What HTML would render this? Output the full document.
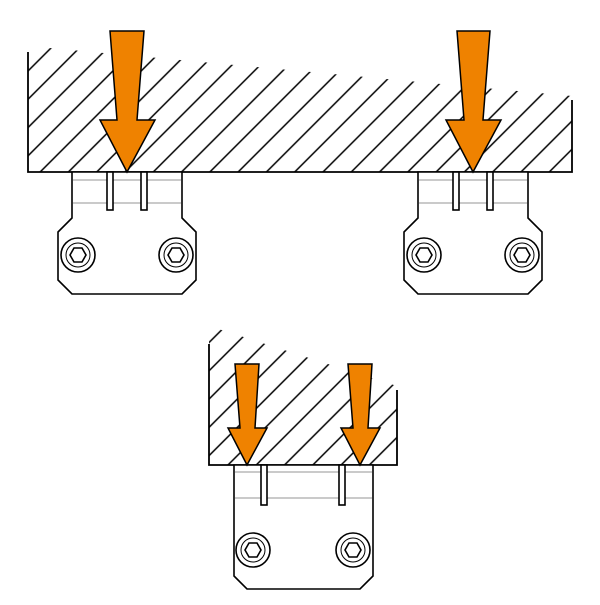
<!DOCTYPE html>
<html><head><style>html,body{margin:0;padding:0;background:#fff}</style></head><body>
<svg width="600" height="600" viewBox="0 0 600 600" xmlns="http://www.w3.org/2000/svg">
<defs>
<pattern id="h" width="20" height="20" patternUnits="userSpaceOnUse" patternTransform="rotate(45)">
<line x1="10" y1="0" x2="10" y2="20" stroke="#000" stroke-width="1.5"/>
</pattern>
<clipPath id="c1"><polygon points="28,46 572,96 572,172 28,172"/></clipPath>
<clipPath id="c2"><polygon points="209,326 397,386 397,465 209,465"/></clipPath>
<g id="clamp" fill="#fff" stroke="#000" stroke-width="1.6">
<polygon points="72,172 182,172 182,218 196,232 196,280 182,294 72,294 58,280 58,232 72,218"/>
<line x1="73" y1="180" x2="181" y2="180" stroke="#aaa" stroke-width="1.3"/>
<line x1="73" y1="203" x2="181" y2="203" stroke="#aaa" stroke-width="1.3"/>
<rect x="107" y="172" width="6" height="38"/>
<rect x="141" y="172" width="6" height="38"/>
<circle cx="78" cy="255" r="17"/><circle cx="78" cy="255" r="12" stroke-width="1"/>
<polygon points="86,255 82,262 74,262 70,255 74,248 82,248"/>
<circle cx="176" cy="255" r="17"/><circle cx="176" cy="255" r="12" stroke-width="1"/>
<polygon points="184,255 180,262 172,262 168,255 172,248 180,248"/>
</g>
</defs>
<rect x="28" y="40" width="544" height="132" fill="url(#h)" clip-path="url(#c1)"/>
<polyline points="28,52 28,172 572,172 572,100" fill="none" stroke="#000" stroke-width="1.8"/>
<use href="#clamp"/>
<use href="#clamp" transform="translate(346,0)"/>
<polygon points="110,31 144,31 137,120 155,120 127,172 100,120 117,120" fill="#ef8200" stroke="#000" stroke-width="1.5"/>
<polygon points="457,31 490,31 483,120 501,120 473,172 446,120 464,120" fill="#ef8200" stroke="#000" stroke-width="1.5"/>

<rect x="209" y="320" width="188" height="145" fill="url(#h)" clip-path="url(#c2)"/>
<polyline points="209,344 209,465 397,465 397,390" fill="none" stroke="#000" stroke-width="1.8"/>
<g fill="#fff" stroke="#000" stroke-width="1.6">
<polygon points="234,465 373,465 373,576 360,589 247,589 234,576"/>
<line x1="235" y1="472" x2="372" y2="472" stroke="#aaa" stroke-width="1.3"/>
<line x1="235" y1="498" x2="372" y2="498" stroke="#aaa" stroke-width="1.3"/>
<rect x="261" y="465" width="6" height="40"/>
<rect x="339" y="465" width="6" height="40"/>
<circle cx="253" cy="550" r="17"/><circle cx="253" cy="550" r="12" stroke-width="1"/>
<polygon points="261,550 257,557 249,557 245,550 249,543 257,543"/>
<circle cx="353" cy="550" r="17"/><circle cx="353" cy="550" r="12" stroke-width="1"/>
<polygon points="361,550 357,557 349,557 345,550 349,543 357,543"/>
</g>
<polygon points="235,364 259,364 255,428 267,428 247,465 228,428 240,428" fill="#ef8200" stroke="#000" stroke-width="1.5"/>
<polygon points="348,364 372,364 368,428 380,428 360,465 341,428 353,428" fill="#ef8200" stroke="#000" stroke-width="1.5"/>
</svg>
</body></html>
